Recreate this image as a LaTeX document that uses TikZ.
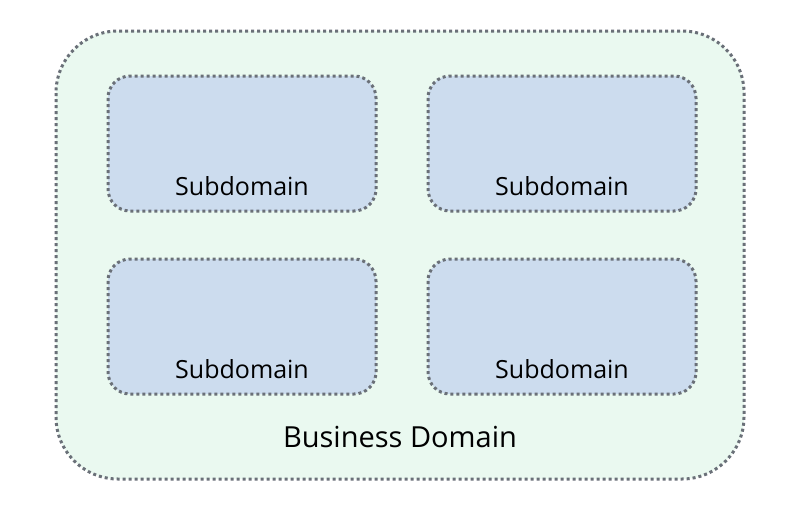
\documentclass[tikz,border=0pt]{standalone}
\usepackage{fontspec}
\setmainfont{Open Sans}
\definecolor{outerfill}{HTML}{EAF9F0}
\definecolor{innerfill}{HTML}{CCDCEE}
\definecolor{dotcol}{HTML}{6A7078}
\begin{document}
\begin{tikzpicture}[x=1pt,y=-1pt,
  dotline/.style={draw=dotcol,line width=3pt,dash pattern=on 3pt off 3pt},
  outerbox/.style={dotline,fill=outerfill,rounded corners=62pt},
  subbox/.style={dotline,fill=innerfill,rounded corners=22pt},
  lbl/.style={font=\fontsize{25}{30}\selectfont,text=black,inner sep=0pt},
  biglbl/.style={font=\fontsize{29}{34}\selectfont,text=black,inner sep=0pt}]
\useasboundingbox (0,0) rectangle (800,512);
\fill[white] (0,0) rectangle (800,512);
\draw[outerbox] (56,31) rectangle (744,479);
\coordinate (od) at (400,437);
\node[biglbl] (bd) at (od) {Business Domain};
\foreach \n/\x/\y in {a/108/76, b/428/76, c/108/259, d/428/259}{
  \draw[subbox] (\x,\y) rectangle ++(268,135);
  \node[lbl] (s\n) at ([xshift=134pt,yshift=-110pt]\x,\y) {Subdomain};
}
\end{tikzpicture}
\end{document}
